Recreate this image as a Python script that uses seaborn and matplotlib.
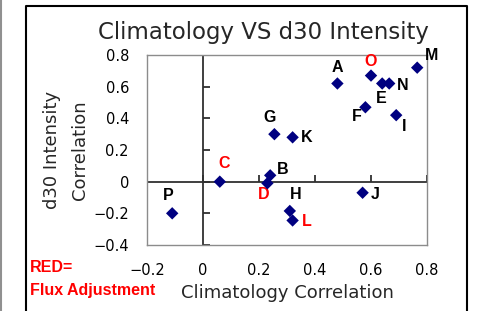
import matplotlib
matplotlib.use('Agg')
import matplotlib.pyplot as plt
import seaborn as sns
import pandas as pd
from matplotlib.lines import Line2D

# Данные
models = ['A', 'B', 'C', 'D', 'E', 'F', 'G', 'H', 'I', 'J', 'K', 'L', 'M', 'N', 'O', 'P']
clim_corr = [0.48, 0.24, 0.06, 0.23, 0.64, 0.58, 0.255, 0.31, 0.69, 0.57, 0.32, 0.32, 0.765, 0.665, 0.60, -0.11]
d30_corr = [0.62, 0.04, 0.0, -0.01, 0.62, 0.47, 0.30, -0.185, 0.42, -0.07, 0.28, -0.245, 0.72, 0.62, 0.67, -0.20]
flux_adjusted = ['C', 'D', 'L', 'O']

x_ticks = [-0.2, 0, 0.2, 0.4, 0.6, 0.8]
x_ticklabels = ['\u22120.2', '0', '0.2', '0.4', '0.6', '0.8']
y_ticks = [-0.4, -0.2, 0, 0.2, 0.4, 0.6, 0.8]
y_ticklabels = ['\u22120.4', '\u22120.2', '0', '0.2', '0.4', '0.6', '0.8']

# смещения подписей (в пикселях)
label_offsets = {'A': (0, 16), 'B': (12, 6), 'C': (4, 18), 'D': (-4, -11), 'E': (-1, -15),
                 'F': (-9, -9), 'G': (-5, 17), 'H': (6, 16), 'I': (8, -11), 'J': (13, -2),
                 'K': (14, 0), 'L': (14, -1), 'M': (14, 12), 'N': (13, -2), 'O': (0, 14), 'P': (-4, 18)}

df = pd.DataFrame({'model': models, 'clim': clim_corr, 'd30': d30_corr})

sns.set_style('white')
plt.rcParams['font.family'] = ['DejaVu Sans']

W, H = 479, 311
fig = plt.figure(figsize=(W / 100, H / 100), dpi=100)
ax = fig.add_axes([147 / W, (H - 245) / H, 280 / W, 190 / H])

sns.scatterplot(data=df, x='clim', y='d30', marker='D', s=40, color='#000080',
                edgecolor='none', ax=ax, zorder=5)

ax.set_xlim(-0.2, 0.8)
ax.set_ylim(-0.4, 0.8)
ax.set_xticks(x_ticks, x_ticklabels)
ax.set_yticks(y_ticks, y_ticklabels)
ax.tick_params(length=0, labelsize=10.5, pad=13, colors='black')
for s in ax.spines.values():
    s.set_color('#8c8c8c')
    s.set_linewidth(1)

# оси, пересекающиеся в нуле
ax.axhline(0, color='#303030', lw=1.3, zorder=2)
ax.axvline(0, color='#303030', lw=1.3, zorder=2)
ax.plot(x_ticks, [0] * len(x_ticks), ls='none', marker=2, ms=5, mew=1.3, color='#303030', zorder=2)
ax.plot([0] * len(y_ticks), y_ticks, ls='none', marker=1, ms=5, mew=1.3, color='#303030', zorder=2)

for m, x, y in zip(models, clim_corr, d30_corr):
    dx, dy = label_offsets[m]
    ax.annotate(m, (x, y), xytext=(dx, dy), textcoords='offset pixels', ha='center', va='center',
                fontsize=11.5, fontweight='bold', family='Liberation Sans',
                color='red' if m in flux_adjusted else 'black')

ax.set_xlabel('Climatology Correlation', fontsize=13, labelpad=4)
ax.set_ylabel('d30 Intensity\nCorrelation', fontsize=13, labelpad=3, linespacing=1.75)
fig.text(263 / W, 1 - 33 / H, 'Climatology VS d30 Intensity', ha='center', va='center', fontsize=16.5)

fig.text(30 / W, 1 - 268 / H, 'RED=', ha='left', va='center', color='red',
         fontsize=11.5, fontweight='bold', family='Liberation Sans')
fig.text(30 / W, 1 - 291 / H, 'Flux Adjustment', ha='left', va='center', color='red',
         fontsize=11.5, fontweight='bold', family='Liberation Sans')

# рамка диаграммы
fig.add_artist(Line2D([25.5 / W, 25.5 / W, 466.5 / W, 466.5 / W], [0, 1 - 5.5 / H, 1 - 5.5 / H, 0],
                      color='black', lw=1.5, transform=fig.transFigure))
fig.add_artist(Line2D([0.8 / W, 0.8 / W], [0, 1], color='#909090', lw=1.5, transform=fig.transFigure))

fig.savefig('out.png', dpi=100)
